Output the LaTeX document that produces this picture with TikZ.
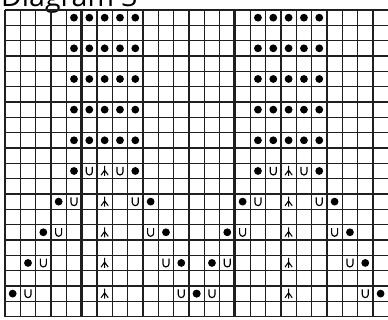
\documentclass[tikz,border=0pt]{standalone}
\usepackage{fontspec}
\setmainfont{Open Sans}
\begin{document}
\begin{tikzpicture}[x=1pt,y=-1pt,
  gridline/.style={line width=1.3pt, draw=black!88},
  boldline/.style={line width=3pt, draw=black!88},
  dotmark/.style={circle, fill=black, draw=none, inner sep=0pt, minimum size=7.8pt},
  umark/.pic={\draw[line width=1.15pt, line cap=butt] (-3,-4.2) -- (-3,1) arc[start angle=180, end angle=0, radius=3] -- (3,-4.2);},
  vmark/.pic={\draw[line width=1.05pt] (0,-5) -- (0,5) (0,-0.8) -- (-3.6,4.2) (0,-0.8) -- (3.6,4.2);}
]
\useasboundingbox (0,0) rectangle (388,320);
\def\s{15.33}
% title (partly cut off at the top, as in the reference)
\node[anchor=base west, inner sep=0pt, font=\fontsize{28.5}{28.5}\selectfont] (title) at (1,7) {Diagram 3};
% grid
\foreach \c in {0,...,25} \draw[gridline] ({5+\s*\c},10) -- ({5+\s*\c},{10+20*\s});
\foreach \r in {0,...,20} \draw[gridline] (5,{10+\s*\r}) -- ({5+25*\s},{10+\s*\r});
\foreach \c in {5,15} \draw[boldline] ({5+\s*\c},10) -- ({5+\s*\c},{10+20*\s});
% dot rows
\foreach \r in {0,2,4,6,8}
  \foreach \c in {4,...,8,16,17,18,19,20}
    \node[dotmark] (d-\r-\c) at ({5+\s*(\c+0.5)},{10+\s*(\r+0.5)}) {};
% fan rows
\foreach \k in {0,...,4}{
  \pgfmathtruncatemacro{\r}{10+2*\k}
  \foreach \o in {0,12}{
    \pgfmathtruncatemacro{\ca}{4-\k+\o}
    \pgfmathtruncatemacro{\cb}{5-\k+\o}
    \pgfmathtruncatemacro{\cc}{6+\o}
    \pgfmathtruncatemacro{\cd}{7+\k+\o}
    \pgfmathtruncatemacro{\ce}{8+\k+\o}
    \node[dotmark] (f-\r-\ca) at ({5+\s*(\ca+0.5)},{10+\s*(\r+0.5)}) {};
    \node[dotmark] (f-\r-\ce) at ({5+\s*(\ce+0.5)},{10+\s*(\r+0.5)}) {};
    \pic at ({5+\s*(\cb+0.5)},{10+\s*(\r+0.5)}) {umark};
    \pic at ({5+\s*(\cc+0.5)},{10+\s*(\r+0.5)}) {vmark};
    \pic at ({5+\s*(\cd+0.5)},{10+\s*(\r+0.5)}) {umark};
  }
}
\end{tikzpicture}
\end{document}
